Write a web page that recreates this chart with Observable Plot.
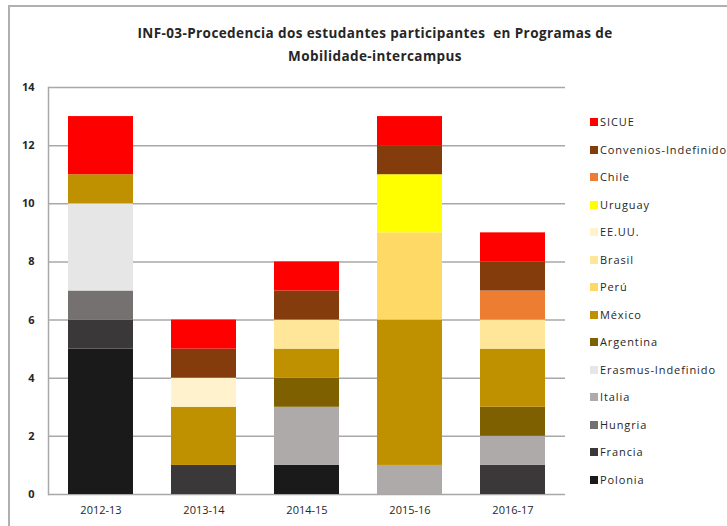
<!DOCTYPE html>
<html>
<head>
<meta charset="utf-8">
<script src="https://cdn.jsdelivr.net/npm/d3@7"></script>
<script src="https://cdn.jsdelivr.net/npm/@observablehq/plot@0.6"></script>
<style>
  html, body { margin: 0; padding: 0; background: #fff; }
  #wrap { position: relative; width: 727px; height: 526px; overflow: hidden; font-family: "Open Sans", sans-serif; color: #262626; }
  #frame { position: absolute; left: 8px; top: 5px; width: 760px; height: 560px; border-top: 2px solid #b0b0b0; border-left: 2px solid #b0b0b0; }
  #title { position: absolute; left: 60px; width: 630px; top: 22px; text-align: center; font-weight: bold; font-size: 13.5px; line-height: 23px; letter-spacing: 0.4px; }
  #legend { position: absolute; left: 590px; top: 0; }
  .item { position: absolute; left: 0; white-space: nowrap; font-size: 11px; height: 14px; line-height: 14px; letter-spacing: 0.9px; }
  .sw { display: inline-block; width: 8px; height: 8px; vertical-align: middle; margin-right: 2px; position: relative; top: -1px; }
  #chart { position: absolute; left: 0; top: 0; }
</style>
</head>
<body>
<div id="wrap">
  <div id="frame"></div>
  <div id="chart"></div>
  <div id="title">INF-03-Procedencia dos estudantes participantes&nbsp; en Programas de<br>Mobilidade-intercampus</div>
  <div id="legend"></div>
</div>
<script>
const years = ["2012-13", "2013-14", "2014-15", "2015-16", "2016-17"];
// stacking order, bottom to top
const series = ["Polonia", "Francia", "Hungria", "Italia", "Erasmus-Indefinido", "Argentina", "México", "Perú", "Brasil", "EE.UU.", "Uruguay", "Chile", "Convenios-Indefinido", "SICUE"];
const colors = ["#1a1a1a", "#3a3838", "#767171", "#aeaaaa", "#e7e6e6", "#7f6000", "#bf9000", "#ffd966", "#ffe699", "#fff2cc", "#ffff00", "#ed7d31", "#843c0c", "#ff0000"];
const values = {
  "Polonia":              [5, 0, 1, 0, 0],
  "Francia":              [1, 1, 0, 0, 1],
  "Hungria":              [1, 0, 0, 0, 0],
  "Italia":               [0, 0, 2, 1, 1],
  "Erasmus-Indefinido":   [3, 0, 0, 0, 0],
  "Argentina":            [0, 0, 1, 0, 1],
  "México":               [1, 2, 1, 5, 2],
  "Perú":                 [0, 0, 0, 3, 0],
  "Brasil":               [0, 0, 1, 0, 1],
  "EE.UU.":               [0, 1, 0, 0, 0],
  "Uruguay":              [0, 0, 0, 2, 0],
  "Chile":                [0, 0, 0, 0, 1],
  "Convenios-Indefinido": [0, 1, 1, 1, 1],
  "SICUE":                [2, 1, 1, 1, 1]
};
const yTicks = [0, 2, 4, 6, 8, 10, 12, 14];

const rows = [];
for (const s of series) years.forEach((y, i) => { if (values[s][i] > 0) rows.push({year: y, series: s, value: values[s][i]}); });

const W = 727, H = 526;
const chart = Plot.plot({
  width: W, height: H,
  marginLeft: 48, marginRight: 162, marginTop: 87, marginBottom: 32,
  style: {fontFamily: "'Open Sans', sans-serif", fontSize: "11px", color: "#262626", background: "transparent"},
  x: {domain: years, paddingInner: 0.37, paddingOuter: 0.185, label: null},
  y: {domain: [0, 14], label: null},
  color: {domain: series, range: colors},
  marks: [
    Plot.ruleY(yTicks, {stroke: "#a8a8a8", strokeWidth: 1.5}),
    Plot.barY(rows, Plot.stackY({x: "year", y: "value", z: "series", fill: "series", order: series})),
    Plot.axisY({ticks: yTicks, tickSize: 0, tickPadding: 14, fontSize: 11, fontWeight: "bold", fill: "#262626"}),
    Plot.axisX({tickSize: 0, tickPadding: 12, fontSize: 11, fill: "#262626"}),
    Plot.frame({anchor: "left", stroke: "#a8a8a8", strokeWidth: 1.5})
  ]
});
document.getElementById("chart").appendChild(chart);

// legend (top to bottom: reverse of stacking)
const legend = document.getElementById("legend");
const legendOrder = series.slice().reverse();
legendOrder.forEach((s, i) => {
  const d = document.createElement("div");
  d.className = "item";
  d.style.top = (115 + i * 27.5) + "px";
  const sw = document.createElement("span");
  sw.className = "sw";
  sw.style.background = colors[series.indexOf(s)];
  d.appendChild(sw);
  d.appendChild(document.createTextNode(s));
  legend.appendChild(d);
});
</script>
</body>
</html>
